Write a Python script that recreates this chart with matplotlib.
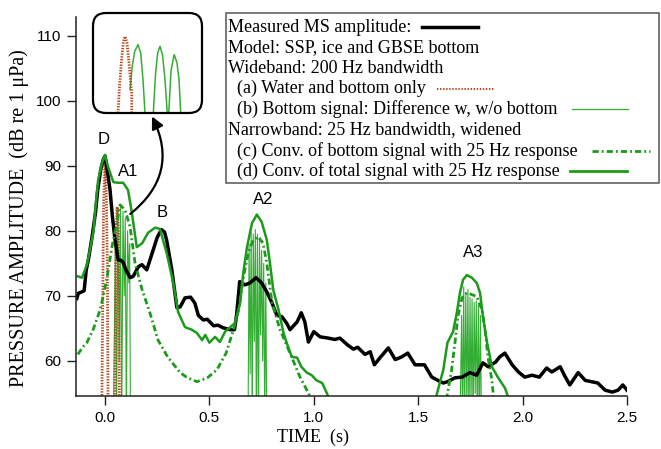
import matplotlib
matplotlib.use('Agg')
import matplotlib.pyplot as plt
import matplotlib.patches as patches
from matplotlib.lines import Line2D
import numpy as np

plt.rcParams['font.family'] = ['Liberation Serif', 'DejaVu Serif']
plt.rcParams['lines.scale_dashes'] = False

NAN = np.nan

# measured MS amplitude (black)
meas_t = [-0.135, -0.128, -0.112, -0.100, -0.090, -0.080, -0.072, -0.060, -0.045, -0.035,
          -0.020, -0.008, 0.000, 0.010, 0.024, 0.036, 0.048, 0.063, 0.075, 0.086,
          0.100, 0.120, 0.135, 0.160, 0.177, 0.200, 0.220, 0.250, 0.270, 0.285,
          0.295, 0.320, 0.344, 0.360, 0.383, 0.410, 0.430, 0.447, 0.470, 0.490,
          0.520, 0.540, 0.565, 0.600, 0.620, 0.630, 0.645, 0.670, 0.695, 0.723,
          0.750, 0.775, 0.800, 0.823, 0.847, 0.870, 0.886, 0.920, 0.940, 0.957,
          0.974, 1.000, 1.030, 1.050, 1.070, 1.100, 1.125, 1.160, 1.190, 1.210,
          1.245, 1.270, 1.290, 1.320, 1.357, 1.390, 1.420, 1.450, 1.485, 1.530,
          1.565, 1.595, 1.620, 1.640, 1.676, 1.710, 1.748, 1.780, 1.810, 1.835,
          1.870, 1.890, 1.915, 1.950, 1.980, 2.010, 2.045, 2.080, 2.115, 2.140,
          2.180, 2.200, 2.226, 2.266, 2.300, 2.330, 2.360, 2.395, 2.430, 2.457,
          2.480, 2.500]
meas_db = [69.6, 70.4, 70.6, 70.8, 74.0, 75.5, 77.1, 79.5, 83.0, 86.3,
           89.5, 91.0, 91.5, 89.5, 86.3, 82.0, 78.6, 75.5, 75.5, 75.2,
           74.0, 72.8, 73.0, 74.5, 74.8, 74.0, 76.0, 79.0, 80.2, 79.8,
           78.6, 74.0, 68.2, 68.3, 69.7, 69.8, 68.9, 67.0, 66.3, 66.4,
           65.4, 65.5, 65.1, 64.8, 64.8, 67.0, 72.2, 71.7, 72.0, 72.8,
           72.0, 70.6, 68.9, 67.0, 66.8, 65.8, 64.8, 66.0, 67.4, 66.0,
           62.9, 64.5, 63.7, 63.6, 63.5, 63.3, 63.5, 62.5, 61.8, 62.1,
           61.0, 61.4, 59.4, 60.6, 62.0, 60.2, 60.6, 61.2, 59.4, 59.4,
           57.5, 57.0, 56.6, 56.8, 57.4, 57.5, 58.2, 57.8, 59.7, 59.1,
           59.8, 60.6, 61.2, 59.4, 58.3, 57.5, 57.8, 57.5, 58.9, 58.3,
           59.1, 57.8, 56.3, 58.2, 57.0, 56.8, 56.6, 55.5, 55.2, 55.5,
           56.3, 55.5]

# (a) water and bottom only, wideband
wat_t = [-0.016, -0.007, 0.000, 0.006, 0.011, 0.015, 0.030, 0.046, 0.053, 0.058, 0.064, 0.070]
wat_db = [50.0, 84.0, 91.2, 86.0, 75.0, 50.0, 40.0, 50.0, 80.0, 83.7, 80.0, 50.0]

# (b) bottom signal, wideband (A1, A2, A3 arrivals)
bot_t = [0.040, 0.050, 0.055, 0.062, 0.068, 0.074, 0.080, 0.086, 0.092, 0.097, 0.102, 0.108, 0.114, 0.118, 0.122,
         NAN,
         0.685, 0.690, 0.695, 0.700, 0.705, 0.710, 0.715, 0.720, 0.725, 0.730, 0.735, 0.740,
         0.745, 0.750, 0.755, 0.760, 0.765, 0.770, 0.775,
         NAN,
         1.700, 1.708, 1.712, 1.718, 1.722, 1.728, 1.733, 1.738, 1.743, 1.748, 1.753,
         1.758, 1.763, 1.768, 1.773, 1.778, 1.783, 1.788, 1.793, 1.798, 1.803]
bot_db = [50.0, 80.0, 50.0, 83.5, 60.0, 84.0, 50.0, 83.0, 70.0, 82.0, 50.0, 80.0, 72.0, 78.0, 50.0,
          NAN,
          50.0, 78.0, 58.0, 79.8, 50.0, 79.5, 63.0, 80.2, 50.0, 79.5, 50.0, 78.5,
          64.0, 77.0, 60.0, 75.0, 50.0, 72.0, 50.0,
          NAN,
          50.0, 67.0, 50.0, 71.4, 50.0, 70.5, 52.0, 71.0, 50.0, 69.8, 53.0,
          69.5, 50.0, 69.0, 55.0, 69.2, 50.0, 68.6, 50.0, 67.0, 50.0]

# (c) bottom signal convolved with 25 Hz response
cb_t = [-0.130, -0.110, -0.087, -0.057, -0.024, -0.010, 0.010, 0.033, 0.057, 0.072,
        0.096, 0.120, 0.144, 0.178, 0.215, 0.254, 0.300, 0.360, 0.390, 0.440,
        0.490, 0.535, 0.580, 0.615, 0.640, 0.663, 0.686, 0.710, 0.733, 0.757,
        0.775, 0.800, 0.838, 0.886, 0.934, 0.972, 0.990,
        NAN,
        1.635, 1.640, 1.660, 1.676, 1.690, 1.710, 1.733, 1.757, 1.780, 1.806,
        1.820, 1.834, 1.853, 1.862]
cb_db = [61.0, 62.0, 62.8, 64.8, 67.8, 69.8, 72.9, 77.5, 81.2, 84.0,
         83.2, 80.6, 75.0, 70.9, 67.4, 63.2, 60.6, 58.2, 57.5, 56.8,
         57.4, 58.6, 61.2, 64.8, 67.8, 72.9, 76.6, 78.6, 79.1, 78.1,
         75.0, 68.9, 64.8, 61.2, 57.5, 55.2, 54.0,
         NAN,
         54.0, 55.0, 58.6, 62.8, 66.8, 69.7, 70.5, 70.2, 69.9, 67.8,
         64.8, 60.6, 57.0, 54.0]

# (d) total signal convolved with 25 Hz response
ct_t = [-0.130, -0.110, -0.085, -0.070, -0.055, -0.048, -0.033, -0.015, 0.000, 0.015,
        0.040, 0.062, 0.087, 0.110, 0.128, 0.152, 0.178, 0.206, 0.240, 0.263,
        0.295, 0.327, 0.350, 0.383, 0.415, 0.440, 0.465, 0.480, 0.500, 0.527,
        0.550, 0.575, 0.600, 0.622, 0.647, 0.662, 0.680, 0.704, 0.727, 0.750,
        0.775, 0.790, 0.806, 0.830, 0.855, 0.870, 0.895, 0.920, 0.940, 0.966,
        0.990, 1.013, 1.040, 1.063, 1.075,
        NAN,
        1.585, 1.590, 1.620, 1.640, 1.667, 1.685, 1.700, 1.715, 1.733, 1.757,
        1.780, 1.796, 1.810, 1.830, 1.853, 1.883, 1.916, 1.935]
ct_db = [73.0, 72.8, 75.0, 77.5, 80.0, 82.8, 87.8, 90.4, 91.7, 89.8,
         87.5, 87.4, 87.4, 86.3, 82.9, 77.5, 78.1, 79.7, 80.5, 80.3,
         76.6, 72.0, 67.5, 65.2, 64.8, 64.3, 63.2, 64.0, 62.8, 63.7,
         62.9, 64.5, 65.2, 65.8, 68.9, 73.5, 77.5, 81.2, 82.5, 81.4,
         78.6, 75.0, 70.9, 68.0, 64.3, 62.8, 60.6, 60.5, 59.1, 58.2,
         57.8, 57.0, 56.6, 55.0, 54.0,
         NAN,
         54.0, 55.0, 58.6, 62.8, 64.5, 67.4, 70.5, 72.5, 73.2, 72.8,
         72.0, 70.5, 66.8, 62.8, 59.1, 57.4, 55.8, 54.0]

# inset: peaks of wideband curves (ms, dB)
ins_a_t = [-8.7, -6.8, -4.3, -1.9, 0.0, 2.5, 5.0, 7.4, 8.3, 8.4]
ins_a_db = [86.0, 87.6, 89.2, 90.3, 90.6, 90.2, 89.0, 87.6, 87.3, 85.5]
ins_b_t = [6.2, 9.0, 12.0, 16.1, 19.5, 22.3, 24.8, 29.8, 35.1, 37.8, 40.5, 43.4, 46.5,
           49.6, 52.1, 53.3, 54.5, 57.0, 60.1, 61.1, 64.5, 67.0, 69.1, 72.0]
ins_b_db = [87.4, 88.8, 89.7, 90.1, 89.6, 88.0, 86.0, 82.0, 86.0, 88.3, 89.6, 90.0, 89.5,
            88.0, 86.2, 85.0, 86.2, 88.5, 89.3, 89.5, 89.0, 88.0, 86.0, 83.0]

peak_names = ['D', 'A1', 'B', 'A2', 'A3']
peak_t = [-0.005, 0.112, 0.273, 0.757, 1.764]
peak_db = [94.0, 89.2, 82.9, 84.8, 76.6]

legend_lines = ['Measured MS amplitude:', 'Model: SSP, ice and GBSE bottom',
                'Wideband: 200 Hz bandwidth', '(a) Water and bottom only',
                '(b) Bottom signal: Difference w, w/o bottom',
                'Narrowband: 25 Hz bandwidth, widened',
                '(c) Conv. of bottom signal with 25 Hz response',
                '(d) Conv. of total signal with 25 Hz response']

GREEN = '#1c9a1c'
LGREEN = '#33ad33'
RED = '#b5481e'

W, H = 661, 449
fig = plt.figure(figsize=(W / 100, H / 100), dpi=100)
fig.patch.set_facecolor('white')

def px(x, y):
    return x / 100, (H - y) / 100

ax = fig.add_axes([76 / W, 1 - 396 / H, (627 - 76) / W, (396 - 17) / H])
ax.plot(bot_t, bot_db, color=LGREEN, lw=0.8)
ax.plot(wat_t, wat_db, color=RED, lw=2.0, ls=(0, (1.0, 1.0)))
ax.plot(meas_t, meas_db, color='black', lw=2.5)
ax.plot(cb_t, cb_db, color=GREEN, lw=2.0, dashes=(4.5, 2.2, 1.3, 2.2))
ax.plot(ct_t, ct_db, color=GREEN, lw=1.8)

ax.set_xlim(-0.139, 2.5)
ax.set_ylim(54.6, 112.9)
ax.set_xticks([0, 0.5, 1.0, 1.5, 2.0, 2.5])
ax.set_xticklabels(['0.0', '0.5', '1.0', '1.5', '2.0', '2.5'])
ax.set_yticks([60, 70, 80, 90, 100, 110])
ax.spines['top'].set_visible(False)
ax.spines['right'].set_visible(False)
for s in ('left', 'bottom'):
    ax.spines[s].set_linewidth(1.1)
    ax.spines[s].set_color('#222222')
ax.tick_params(direction='out', length=6.5, width=1.0, labelsize=11, pad=4,
               labelfontfamily='Liberation Sans', color='#222222')
ax.set_xlabel('TIME  (s)', fontsize=13)
ax.xaxis.set_label_coords((313 - 76) / 551, -0.085)
ax.set_ylabel('PRESSURE AMPLITUDE  (dB re 1 \u03bcPa)', fontsize=14.5)
ax.yaxis.set_label_coords((29 - 76) / 551, (396 - 218) / 379)

for name, t, d in zip(peak_names, peak_t, peak_db):
    ax.text(t, d, name, fontsize=12, family='Liberation Sans', ha='center', va='center')

# arrow from the A1 area up to the inset
ax.annotate('', xy=(0.225, 97.6), xytext=(0.121, 82.6),
            arrowprops=dict(arrowstyle='-|>', color='black', lw=1.6, mutation_scale=18,
                            connectionstyle='arc3,rad=0.4', shrinkA=0, shrinkB=0),
            annotation_clip=False)

# inset
x0, y0 = px(93, 113)
ax_in = fig.add_axes([93 / W, 1 - 113 / H, 109 / W, 100 / H])
ax_in.set_xlim(-39.7, 95.5)
ax_in.set_ylim(86.0, 92.0)
ax_in.plot(ins_b_t, ins_b_db, color=LGREEN, lw=1.1)
ax_in.plot(ins_a_t, ins_a_db, color=RED, lw=2.0, ls=(0, (1.0, 1.0)))
ax_in.axis('off')
fig.patches.append(patches.FancyBboxPatch((x0, y0), 1.09, 1.00,
                                          boxstyle='round,pad=0,rounding_size=0.13',
                                          transform=fig.dpi_scale_trans, facecolor='none',
                                          edgecolor='black', lw=1.6))

# legend box
lx, ly = px(226, 183)
fig.patches.append(patches.Rectangle((lx, ly), (659 - 226) / 100, (183 - 13) / 100,
                                     transform=fig.dpi_scale_trans, facecolor='white',
                                     edgecolor='#555555', lw=1.1))
indent = [0, 0, 0, 1, 1, 0, 1, 1]
for i, txt in enumerate(legend_lines):
    yy = 27 + i * 20.6
    fig.text(*px(228 + 9 * indent[i], yy), txt, fontsize=13, va='center', ha='left',
             transform=fig.dpi_scale_trans)

samples = [((422, 478, 27), dict(color='black', lw=2.5)),
           ((437, 494, 89), dict(color=RED, lw=1.5, ls=(0, (1.0, 1.2)))),
           ((572, 628, 109), dict(color=LGREEN, lw=0.9)),
           ((592, 650, 151), dict(color=GREEN, lw=2.0, dashes=(4.5, 2.2, 1.3, 2.2))),
           ((570, 627, 171), dict(color=GREEN, lw=2.0))]
for (xa, xb, yy), kw in samples:
    (ia, ja), (ib, jb) = px(xa, yy), px(xb, yy)
    fig.lines.append(Line2D([ia, ib], [ja, jb], transform=fig.dpi_scale_trans, **kw))

fig.savefig('out.png', dpi=100, facecolor='white')
